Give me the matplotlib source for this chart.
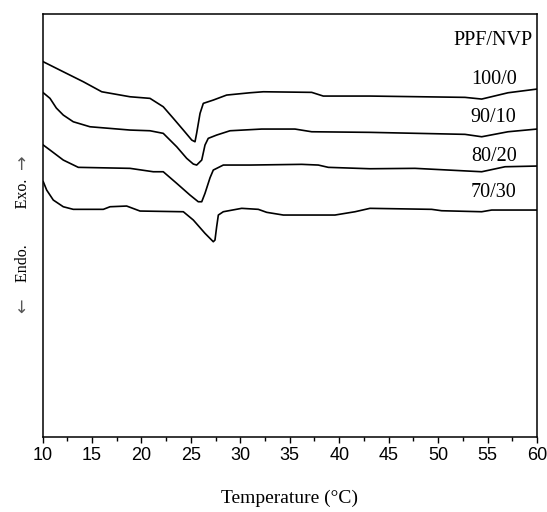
import matplotlib
matplotlib.use("Agg")
import matplotlib.pyplot as plt
from matplotlib.ticker import MultipleLocator

# DSC curves (temperature in degC, heat flow in arbitrary units, offset per sample)
t_100_0 = [10.08, 12.10, 14.13, 15.99, 18.85, 20.87, 22.21, 23.23, 24.24, 25.09, 25.42,
           25.59, 25.93, 26.26, 27.27, 28.62, 30.98, 32.33, 37.22, 38.39, 43.11, 52.72,
           54.41, 57.07, 60.0]
hf_100_0 = [375.3, 365.3, 355.3, 345.3, 340.3, 338.7, 330.3, 318.7, 307, 297, 295.3,
            304, 323.7, 333.7, 337, 342, 344.3, 345.3, 344.7, 341, 341, 339.7,
            338, 344.3, 348]

t_90_10 = [10.08, 10.76, 11.40, 12.10, 13.11, 14.80, 18.85, 20.87, 22.21, 23.57, 24.58,
           25.25, 25.59, 26.10, 26.43, 26.76, 27.61, 28.96, 32.16, 35.53, 37.22, 43.11,
           52.72, 54.41, 57.07, 60.0]
hf_90_10 = [344.3, 338.7, 329, 322, 315.3, 310.3, 307, 306.3, 303.7, 290.3, 278.7,
            273, 272, 277, 292, 298.7, 302, 306.3, 308, 308, 305.3, 304.7,
            302.7, 300.3, 305.3, 308]

t_80_20 = [10.08, 10.76, 12.10, 13.62, 18.85, 21.20, 22.21, 23.57, 24.91, 25.75, 26.10,
           26.43, 26.94, 27.27, 28.28, 30.98, 36.21, 37.89, 38.90, 43.11, 47.66, 54.41,
           56.77, 60.0]
hf_80_20 = [292, 287, 277, 269.7, 268.7, 265.3, 265.3, 253.7, 242, 235.3, 235.3,
            243.7, 259.3, 267, 272, 272, 272.7, 272, 269.7, 268.3, 268.7, 265.3,
            270.3, 271]

t_70_30 = [10.08, 10.42, 11.09, 12.10, 13.11, 16.15, 16.83, 18.51, 19.86, 24.24, 25.25,
           26.43, 27.27, 27.44, 27.61, 27.78, 28.28, 30.14, 31.82, 32.67, 34.35, 39.57,
           41.60, 43.11, 49.35, 50.36, 54.41, 55.42, 60.0]
hf_70_30 = [255.3, 247, 237, 230.3, 227.7, 227.7, 230.3, 231, 226, 225.3, 217,
            203.7, 195.3, 197, 210.3, 222, 225.3, 228.7, 227.7, 224.7, 222, 222,
            225.3, 228.7, 227.7, 226.3, 225.3, 227, 227]

labels = ["100/0", "90/10", "80/20", "70/30"]
label_y = [357.7, 319.3, 280.3, 244.7]

serif = ["Liberation Serif", "DejaVu Serif"]
plt.rcParams["font.family"] = ["Liberation Sans", "DejaVu Sans"]

fig = plt.figure(figsize=(5.47, 5.12), dpi=100)
ax = fig.add_axes([0.0777, 0.1465, 0.904, 0.826])

curves = [(t_100_0, hf_100_0), (t_90_10, hf_90_10), (t_80_20, hf_80_20), (t_70_30, hf_70_30)]
for t, hf in curves:
    ax.plot(t, hf, color="black", linewidth=1.2)

for lab, y in zip(labels, label_y):
    ax.text(55.62, y, lab, ha="center", va="center", fontsize=14.5, family=serif)
ax.text(59.6, 397, "PPF/NVP", ha="right", va="center", fontsize=14.5, family=serif)

ax.set_xlim(10, 60)
ax.set_ylim(0, 423)
ax.xaxis.set_major_locator(MultipleLocator(5))
ax.xaxis.set_minor_locator(MultipleLocator(2.5))
ax.tick_params(axis="x", which="major", direction="out", length=4, width=1, labelsize=13, pad=3)
ax.tick_params(axis="x", which="minor", direction="out", length=3, width=1)
ax.set_yticks([])
for sp in ax.spines.values():
    sp.set_linewidth(1.1)

ax.set_xlabel("Temperature (°C)", fontsize=14, family=serif, labelpad=19)

# vertical "Endo. / Exo." label with direction arrows
ax.set_ylabel("Endo.         Exo.", fontsize=11.5, family=serif)
ax.yaxis.set_label_coords(-0.024, 0.489)
fig.text(0.042, 0.402, "←", rotation=90, ha="center", va="center", fontsize=12.5,
         family=["DejaVu Sans"], color="#555555")
fig.text(0.042, 0.684, "→", rotation=90, ha="center", va="center", fontsize=12.5,
         family=["DejaVu Sans"], color="#555555")

fig.savefig("out.png", dpi=100)
